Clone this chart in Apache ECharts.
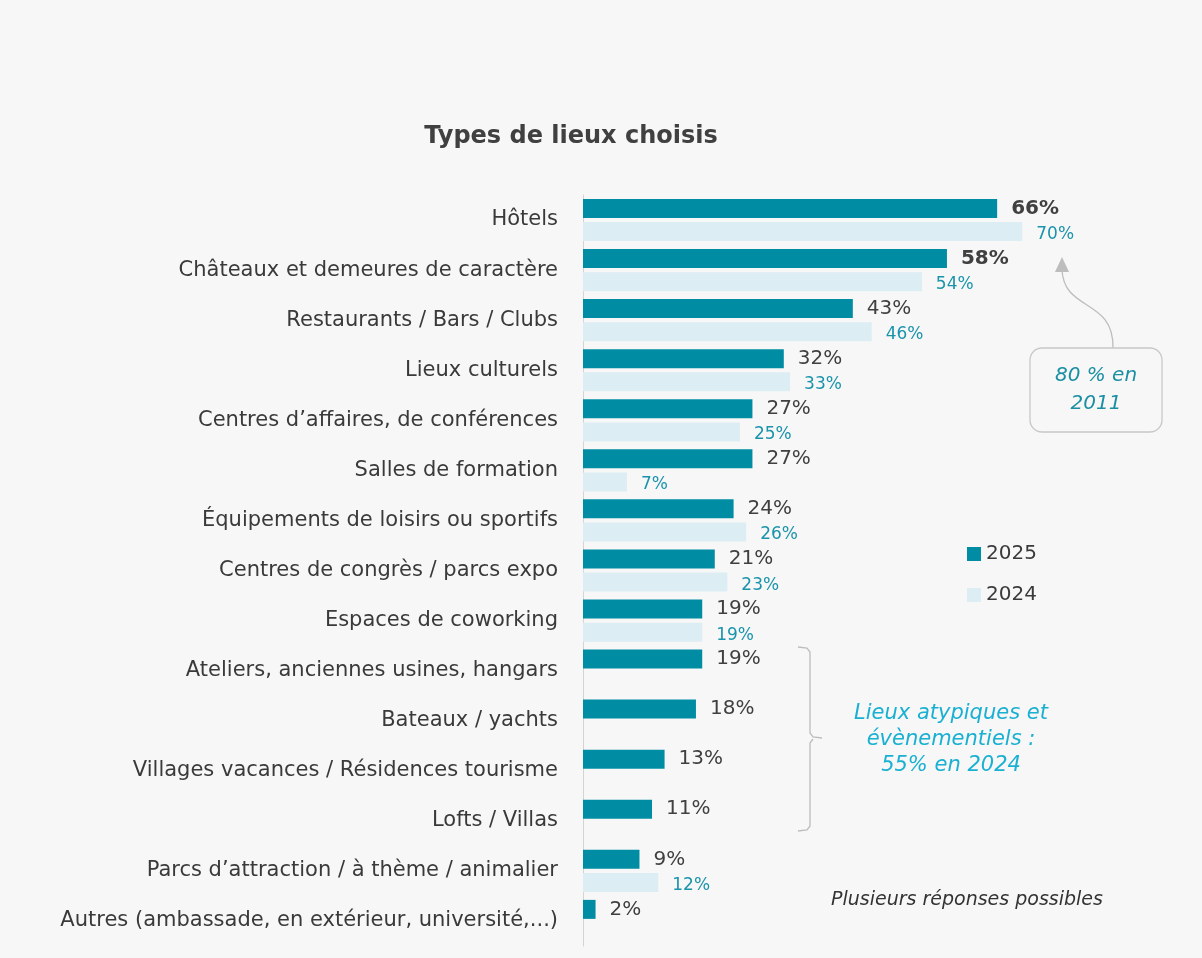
<!DOCTYPE html>
<html>
<head>
<meta charset="utf-8">
<script src="https://cdn.jsdelivr.net/npm/echarts@6/dist/echarts.min.js"></script>
<style>
  html, body { margin: 0; padding: 0; background: #f7f7f7; }
  #chart { width: 1202px; height: 958px; }
</style>
</head>
<body>
<div id="chart"></div>
<script>
// categories, top to bottom
var categories = [
  'Hôtels',
  'Châteaux et demeures de caractère',
  'Restaurants / Bars / Clubs',
  'Lieux culturels',
  'Centres d’affaires, de conférences',
  'Salles de formation',
  'Équipements de loisirs ou sportifs',
  'Centres de congrès / parcs expo',
  'Espaces de coworking',
  'Ateliers, anciennes usines, hangars',
  'Bateaux / yachts',
  'Villages vacances / Résidences tourisme',
  'Lofts / Villas',
  'Parcs d’attraction / à thème / animalier',
  'Autres (ambassade, en extérieur, université,...)'
];
var values2025 = [66, 58, 43, 32, 27, 27, 24, 21, 19, 19, 18, 13, 11, 9, 2];
// no 2024 figure for the "atypiques" group and "Autres"
var values2024 = [70, 54, 46, 33, 25, 7, 26, 23, 19, null, null, null, null, 12, null];
var boldRows = 2; // first two 2025 labels are bold

var FONT = '"DejaVu Sans", sans-serif';
var chart = echarts.init(document.getElementById('chart'));

var data2025 = values2025.map(function (v, i) {
  return {
    value: v,
    label: { fontWeight: i < boldRows ? 'bold' : 'normal' }
  };
});

var option = {
  backgroundColor: '#f7f7f7',
  title: {
    text: 'Types de lieux choisis',
    left: 566,
    top: 120,
    textAlign: 'center',
    textStyle: { fontFamily: FONT, fontSize: 24, fontWeight: 'bold', color: '#404040' }
  },
  legend: {
    orient: 'vertical',
    left: 962,
    top: 539,
    itemWidth: 14,
    itemHeight: 14,
    itemGap: 21,
    icon: 'rect',
    textStyle: { fontFamily: FONT, fontSize: 20, color: '#3a3a3a' },
    data: ['2025', '2024']
  },
  grid: { left: 583, top: 195, width: 502, bottom: 12, containLabel: false },
  xAxis: {
    type: 'value', min: 0, max: 80, show: false
  },
  yAxis: {
    type: 'category',
    inverse: true,
    data: categories,
    axisTick: { show: false },
    axisLine: { show: true, lineStyle: { color: '#d4d4d4', width: 1 } },
    axisLabel: { fontFamily: FONT, fontSize: 21, color: '#3a3a3a', margin: 25 }
  },
  series: [
    {
      name: '2025', type: 'bar', data: data2025,
      barWidth: 19, barGap: '22%',
      itemStyle: { color: '#008ca3' },
      label: {
        show: true, position: 'right', distance: 14,
        formatter: '{c}%', fontFamily: FONT, fontSize: 20, color: '#404040'
      }
    },
    {
      name: '2024', type: 'bar', data: values2024,
      barWidth: 19,
      itemStyle: { color: '#dcedf3' },
      label: {
        show: true, position: 'right', distance: 14,
        formatter: '{c}%', fontFamily: FONT, fontSize: 17, color: '#1a94ab', offset: [0, 3]
      }
    }
  ],
  graphic: [
    // arrow from the 2011 box
    {
      type: 'bezierCurve',
      shape: { x1: 1113, y1: 348, cpx1: 1114, cpy1: 298, cpx2: 1064, cpy2: 312, x2: 1062, y2: 270 },
      style: { stroke: '#bdbdbd', lineWidth: 1.3, fill: null }
    },
    {
      type: 'polygon',
      shape: { points: [[1062, 257], [1055, 272], [1069, 272]] },
      style: { fill: '#bdbdbd' }
    },
    {
      type: 'rect',
      shape: { x: 1030, y: 348, width: 132, height: 84, r: 12 },
      style: { fill: '#f7f7f7', stroke: '#c8c8c8', lineWidth: 1.3 }
    },
    {
      type: 'text', x: 1096, y: 390,
      style: {
        text: '80 % en\n2011', align: 'center', verticalAlign: 'middle',
        fontFamily: FONT, fontSize: 20, fontStyle: 'italic', fill: '#1a8fa3', lineHeight: 28
      }
    },
    // bracket for the atypical venues
    {
      type: 'polyline',
      shape: { points: [[798, 647], [807, 648], [810, 652], [810, 733], [813, 737], [822, 738]] },
      style: { stroke: '#bdbdbd', lineWidth: 1.3, fill: null }
    },
    {
      type: 'polyline',
      shape: { points: [[813, 739], [810, 743], [810, 826], [807, 830], [798, 831]] },
      style: { stroke: '#bdbdbd', lineWidth: 1.3, fill: null }
    },
    {
      type: 'text', x: 951, y: 740,
      style: {
        text: 'Lieux atypiques et\névènementiels :\n55% en 2024', align: 'center', verticalAlign: 'middle',
        fontFamily: FONT, fontSize: 21, fontStyle: 'italic', fill: '#1ab0d2', lineHeight: 26
      }
    },
    {
      type: 'text', x: 967, y: 900,
      style: {
        text: 'Plusieurs réponses possibles', align: 'center', verticalAlign: 'middle',
        fontFamily: FONT, fontSize: 19, fontStyle: 'italic', fill: '#333333'
      }
    }
  ]
};

chart.setOption(option);
</script>
</body>
</html>
